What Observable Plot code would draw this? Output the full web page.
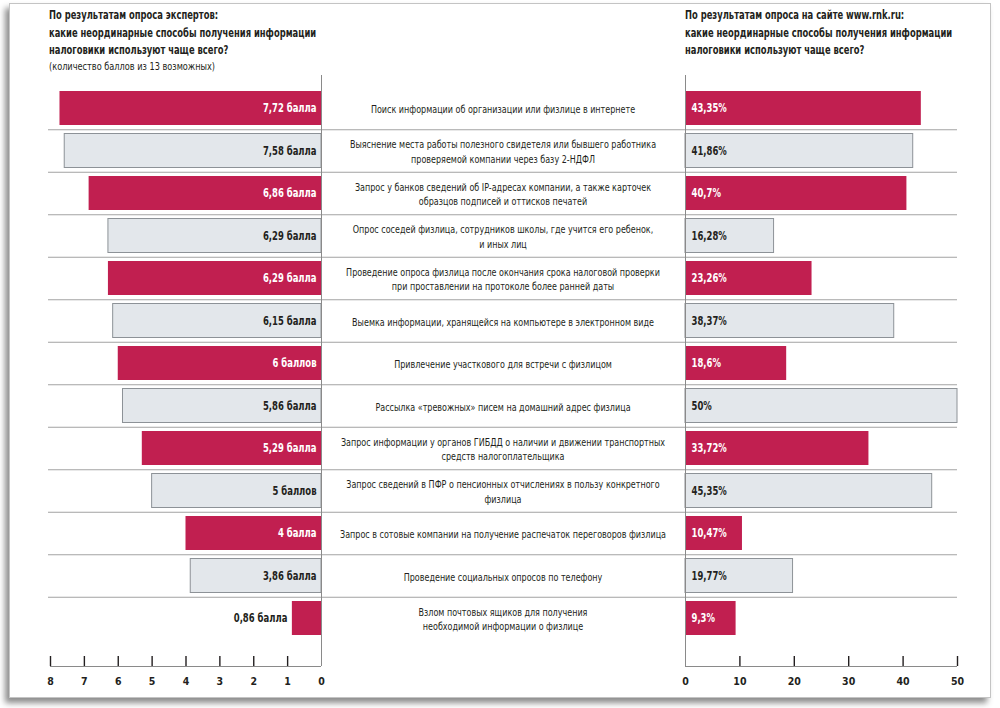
<!DOCTYPE html>
<html>
<head>
<meta charset="utf-8">
<script src="https://cdn.jsdelivr.net/npm/d3@7"></script>
<script src="https://cdn.jsdelivr.net/npm/@observablehq/plot@0.6"></script>
<style>
  html, body { margin: 0; padding: 0; background: #ffffff; }
  #page { position: relative; width: 1000px; height: 708px; overflow: hidden;
          font-family: "DejaVu Sans Condensed", "Liberation Sans Narrow", sans-serif; color: #231f20; }
  #card { position: absolute; left: 9px; top: 3px; width: 980px; height: 693px; background: #fff;
          border: 1px solid #c4c4c4; box-shadow: -4px 5px 6px rgba(0,0,0,0.45); }
  .title { position: absolute; top: 7px; font-weight: bold; font-size: 11.5px; line-height: 17.5px;
           white-space: nowrap; transform: scaleX(0.81); transform-origin: 0 0; }
  .sub { font-weight: normal; font-size: 10.8px; line-height: 14px; transform: scaleX(1.04); transform-origin: 0 0; }
</style>
</head>
<body>
<div id="page">
  <div id="card"></div>
  <div id="chart"></div>
  <div class="title" style="left:49px">По результатам опроса экспертов:<br>какие неординарные способы получения информации<br>налоговики используют чаще всего?<div class="sub">(количество баллов из 13 возможных)</div></div>
  <div class="title" style="left:685px">По результатам опроса на сайте www.rnk.ru:<br>какие неординарные способы получения информации<br>налоговики используют чаще всего?</div>
</div>
<script>
// ---- data ----
const categories = [
  "Поиск информации об организации или физлице в интернете",
  "Выяснение места работы полезного свидетеля или бывшего работника\nпроверяемой компании через базу 2-НДФЛ",
  "Запрос у банков сведений об IP-адресах компании, а также карточек\nобразцов подписей и оттисков печатей",
  "Опрос соседей физлица, сотрудников школы, где учится его ребенок,\nи иных лиц",
  "Проведение опроса физлица после окончания срока налоговой проверки\nпри проставлении на протоколе более ранней даты",
  "Выемка информации, хранящейся на компьютере в электронном виде",
  "Привлечение участкового для встречи с физлицом",
  "Рассылка «тревожных» писем на домашний адрес физлица",
  "Запрос информации у органов ГИБДД о наличии и движении транспортных\nсредств налогоплательщика",
  "Запрос сведений в ПФР о пенсионных отчислениях в пользу конкретного\nфизлица",
  "Запрос в сотовые компании на получение распечаток переговоров физлица",
  "Проведение социальных опросов по телефону",
  "Взлом почтовых ящиков для получения\nнеобходимой информации о физлице"
];
const expertScores = [7.72, 7.58, 6.86, 6.29, 6.29, 6.15, 6, 5.86, 5.29, 5, 4, 3.86, 0.86];
const sitePercents = [43.35, 41.86, 40.7, 16.28, 23.26, 38.37, 18.6, 50, 33.72, 45.35, 10.47, 19.77, 9.3];
const scoreTicks = [8, 7, 6, 5, 4, 3, 2, 1, 0];
const percentTicks = [0, 10, 20, 30, 40, 50];

// ---- styles ----
const CRIMSON = "#c11f50";
const GRAY_FILL = "#e3e7eb";
const GRAY_STROKE = "#8d9297";
const DARK = "#231f20";
const FONT = '"DejaVu Sans Condensed", "Liberation Sans Narrow", sans-serif';

const fmtNum = v => v.toLocaleString("ru-RU", {maximumFractionDigits: 2});
const scoreWord = v => {
  if (!Number.isInteger(v)) return "балла";
  const m = v % 10, h = v % 100;
  if (m === 1 && h !== 11) return "балл";
  if (m >= 2 && m <= 4 && (h < 12 || h > 14)) return "балла";
  return "баллов";
};

const rows = categories.map((label, i) => ({
  i, label,
  score: expertScores[i],
  pct: sitePercents[i],
  hot: i % 2 === 0,
  scoreLabel: fmtNum(expertScores[i]) + " " + scoreWord(expertScores[i]),
  pctLabel: fmtNum(sitePercents[i]) + "%"
}));
const hotRows = rows.filter(d => d.hot);
const grayRows = rows.filter(d => !d.hot);

// ---- shared vertical geometry ----
const W = 1000, H = 708;
const ROW = 42.5;             // px per row
const TOP = 75, BOTTOM = 666; // frame limits (px)
const FIRST = 108;            // first row centre (px)
const yMin = (TOP - FIRST) / ROW, yMax = (BOTTOM - FIRST) / ROW;
const yScale = {domain: [yMin, yMax], reverse: true, axis: null};
const base = {width: W, height: H, marginTop: TOP, marginBottom: H - BOTTOM,
  style: {fontFamily: FONT, background: "transparent", overflow: "visible"}};
const tickLen = 10 / ROW;

// middle layer: separators + category labels
const mid = Plot.plot({
  ...base, marginLeft: 48, marginRight: 43,
  x: {domain: [0, 1], axis: null}, y: yScale,
  marks: [
    Plot.ruleY(rows.slice(0, -1), {y: d => d.i + 0.5, stroke: "#a3a3a3", strokeWidth: 1}),
    Plot.text(rows, {y: "i", text: "label", frameAnchor: "middle", fontSize: 10.5,
      fill: DARK, lineHeight: 1.35})
  ]
});

// left layer: expert scores (reversed axis)
const left = Plot.plot({
  ...base, marginLeft: 50, marginRight: W - 321,
  x: {domain: [8, 0], axis: null}, y: yScale,
  marks: [
    Plot.rect(hotRows, {x1: 0, x2: "score", y1: d => d.i - 0.4, y2: d => d.i + 0.4, fill: CRIMSON}),
    Plot.rect(grayRows, {x1: 0, x2: "score", y1: d => d.i - 0.4, y2: d => d.i + 0.4,
      fill: GRAY_FILL, stroke: GRAY_STROKE, strokeWidth: 1}),
    Plot.text(rows, {x: d => d.score < 1.5 ? d.score : 0, y: "i", text: "scoreLabel",
      textAnchor: "end", dx: -5, fontWeight: "bold", fontSize: 11.5,
      fill: d => (d.hot && d.score >= 1.5) ? "#ffffff" : DARK}),
    Plot.ruleX([0], {stroke: "#8a8a8a", strokeWidth: 1}),
    Plot.ruleY([yMax], {stroke: "#8a8a8a", strokeWidth: 1}),
    Plot.ruleX(scoreTicks.filter(t => t !== 0), {x: d => d, y1: yMax - tickLen, y2: yMax,
      stroke: DARK, strokeWidth: 1.4}),
    Plot.axisX({anchor: "bottom", ticks: scoreTicks, tickSize: 0, tickPadding: 11,
      tickFormat: d => String(d), fontWeight: "bold", fontSize: 10.5, fill: DARK, label: null})
  ]
});

// right layer: site poll percentages
const right = Plot.plot({
  ...base, marginLeft: 685, marginRight: W - 957,
  x: {domain: [0, 50], axis: null}, y: yScale,
  marks: [
    Plot.rect(hotRows, {x1: 0, x2: "pct", y1: d => d.i - 0.4, y2: d => d.i + 0.4, fill: CRIMSON}),
    Plot.rect(grayRows, {x1: 0, x2: "pct", y1: d => d.i - 0.4, y2: d => d.i + 0.4,
      fill: GRAY_FILL, stroke: GRAY_STROKE, strokeWidth: 1}),
    Plot.text(rows, {x: 0, y: "i", text: "pctLabel", textAnchor: "start", dx: 6,
      fontWeight: "bold", fontSize: 11.5, fill: d => d.hot ? "#ffffff" : DARK}),
    Plot.ruleX([0], {stroke: "#8a8a8a", strokeWidth: 1}),
    Plot.ruleY([yMax], {stroke: "#8a8a8a", strokeWidth: 1}),
    Plot.ruleX(percentTicks.filter(t => t !== 0), {x: d => d, y1: yMax - tickLen, y2: yMax,
      stroke: DARK, strokeWidth: 1.4}),
    Plot.axisX({anchor: "bottom", ticks: percentTicks, tickSize: 0, tickPadding: 11,
      tickFormat: d => String(d), fontWeight: "bold", fontSize: 10.5, fill: DARK, label: null})
  ]
});

// horizontally condense text marks (the original uses a condensed face)
function squeeze(svg, k) {
  svg.querySelectorAll('g[aria-label="text"] text').forEach(t => {
    const tr = t.getAttribute("transform");
    if (tr) {
      t.setAttribute("transform", tr + ` scale(${k},1)`);
    } else {
      const x = +t.getAttribute("x") || 0, y = +t.getAttribute("y") || 0;
      t.removeAttribute("x"); t.removeAttribute("y");
      t.setAttribute("transform", `translate(${x},${y}) scale(${k},1)`);
    }
  });
}
squeeze(mid, 0.85);
squeeze(left, 0.82);
squeeze(right, 0.82);

const host = document.getElementById("chart");
for (const svg of [mid, left, right]) {
  svg.style.position = "absolute";
  svg.style.left = "0px";
  svg.style.top = "0px";
  host.appendChild(svg);
}
</script>
</body>
</html>
